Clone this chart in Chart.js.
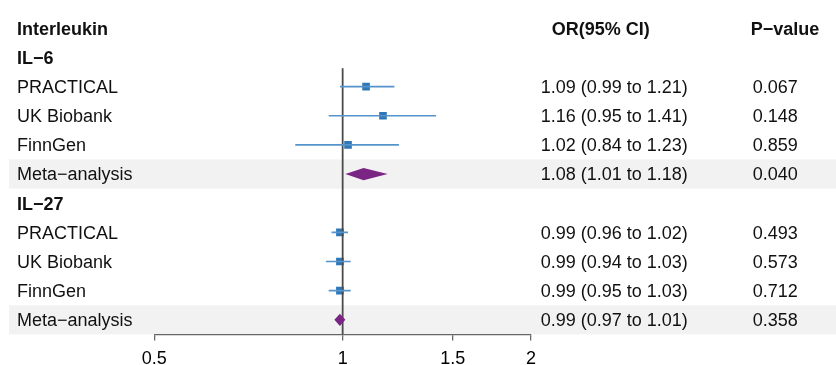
<!DOCTYPE html>
<html><head><meta charset="utf-8">
<script src="https://cdn.jsdelivr.net/npm/chart.js@4"></script>
<style>html,body{margin:0;padding:0;background:#fff;}canvas{display:block}</style>
</head><body>
<canvas id="c" width="836" height="365"></canvas>
<script>
// ---- data ----
const rowLabels = ["Interleukin","IL−6","PRACTICAL","UK Biobank","FinnGen","Meta−analysis","IL−27","PRACTICAL","UK Biobank","FinnGen","Meta−analysis"];
const boldRows = [0,1,6];
const orHeader = "OR(95% CI)";
const pHeader = "P−value";
const orTexts = ["","","1.09 (0.99 to 1.21)","1.16 (0.95 to 1.41)","1.02 (0.84 to 1.23)","1.08 (1.01 to 1.18)","","0.99 (0.96 to 1.02)","0.99 (0.94 to 1.03)","0.99 (0.95 to 1.03)","0.99 (0.97 to 1.01)"];
const pTexts = ["","","0.067","0.148","0.859","0.040","","0.493","0.573","0.712","0.358"];
const studyRows = [2,3,4,5,7,8,9,10];
const estimates = [1.09,1.16,1.02,1.08,0.99,0.99,0.99,0.99];
const lowerCI = [0.99,0.95,0.84,1.01,0.96,0.94,0.95,0.97];
const upperCI = [1.21,1.41,1.23,1.18,1.02,1.03,1.03,1.01];
const isMeta = [false,false,false,true,false,false,false,true];
const xTicks = [0.5,1,1.5,2];
const refValue = 1;

// ---- styles ----
const FONT = '"Liberation Sans", Arial, Helvetica, sans-serif';
const CI_COLOR = '#5593cc';
const SQ_COLOR = '#2f77b7';
const DIA_COLOR = '#7a2583';
const BAND = '#f2f2f2';
const TXT = '#111';

const datasets = [];
studyRows.forEach((r,i)=>{
  if (isMeta[i]) return;
  datasets.push({
    type:'scatter', showLine:true, data:[{x:lowerCI[i],y:r},{x:upperCI[i],y:r}],
    borderColor:CI_COLOR, borderWidth:1.6, pointRadius:0, fill:false
  });
});
datasets.push({
  type:'scatter', showLine:true, data:[{x:refValue,y:1.37},{x:refValue,y:10.5}],
  borderColor:'#4a4a4a', borderWidth:1.8, pointRadius:0, fill:false
});
datasets.push({
  type:'scatter',
  data: studyRows.map((r,i)=>isMeta[i]?null:{x:estimates[i],y:r}).filter(Boolean),
  pointStyle:'rect', pointRadius:5.4, backgroundColor:SQ_COLOR, borderColor:SQ_COLOR, borderWidth:0
});

const forestPlugin = {
  id:'forest',
  beforeDraw(chart){
    const ctx = chart.ctx, y = chart.scales.y;
    ctx.save(); ctx.fillStyle = BAND;
    studyRows.forEach((r,i)=>{
      if (!isMeta[i]) return;
      const t = y.getPixelForValue(r-0.5), b = y.getPixelForValue(r+0.5);
      ctx.fillRect(9, t, chart.width-9, b-t);
    });
    ctx.restore();
  },
  afterDatasetsDraw(chart){
    const ctx = chart.ctx, x = chart.scales.x, y = chart.scales.y;
    ctx.save(); ctx.fillStyle = DIA_COLOR;
    studyRows.forEach((r,i)=>{
      if (!isMeta[i]) return;
      const yc = y.getPixelForValue(r);
      const h = Math.abs(y.getPixelForValue(r+0.21) - yc);
      const xl = x.getPixelForValue(lowerCI[i]), xe = x.getPixelForValue(estimates[i]), xh = x.getPixelForValue(upperCI[i]);
      ctx.beginPath();
      ctx.moveTo(xl,yc); ctx.lineTo(xe,yc-h); ctx.lineTo(xh,yc); ctx.lineTo(xe,yc+h); ctx.closePath();
      ctx.fill();
    });
    ctx.restore();
  },
  afterDraw(chart){
    const ctx = chart.ctx, y = chart.scales.y;
    ctx.save(); ctx.fillStyle = TXT; ctx.textBaseline = 'alphabetic'; ctx.textAlign = 'left';
    rowLabels.forEach((lab,r)=>{
      const yy = y.getPixelForValue(r) + 6.4;
      ctx.font = (boldRows.includes(r)?'bold ':'') + '18px ' + FONT;
      ctx.fillText(lab, 17, yy);
      ctx.font = '18px ' + FONT;
      if (orTexts[r]) ctx.fillText(orTexts[r], 540.7, yy);
      if (pTexts[r]) ctx.fillText(pTexts[r], 752.7, yy);
    });
    const yh = y.getPixelForValue(0) + 6.4;
    ctx.font = 'bold 18px ' + FONT;
    ctx.fillText(orHeader, 551.7, yh);
    ctx.fillText(pHeader, 750.7, yh);
    ctx.restore();
  }
};

new Chart(document.getElementById('c'), {
  type:'scatter',
  data:{datasets},
  options:{
    responsive:false, animation:false, devicePixelRatio:1,
    layout:{padding:{top:13.7,left:154.3,right:305,bottom:0}},
    plugins:{legend:{display:false},tooltip:{enabled:false}},
    scales:{
      x:{
        type:'logarithmic', min:0.5, max:2,
        afterBuildTicks:(s)=>{ s.ticks = xTicks.map(v=>({value:v})); },
        afterFit:(s)=>{ s.height = 30.6; },
        ticks:{ autoSkip:false, maxRotation:0, padding:8.3, color:'#000',
          font:{size:18, family:FONT}, callback:(v)=>String(v) },
        grid:{ drawOnChartArea:false, drawTicks:true, tickLength:6, color:'#666', lineWidth:1.3 },
        border:{ display:true, color:'#666', width:1.3 }
      },
      y:{ type:'linear', min:-0.5, max:10.5, reverse:true, display:false }
    }
  },
  plugins:[forestPlugin]
});
</script>
</body></html>
